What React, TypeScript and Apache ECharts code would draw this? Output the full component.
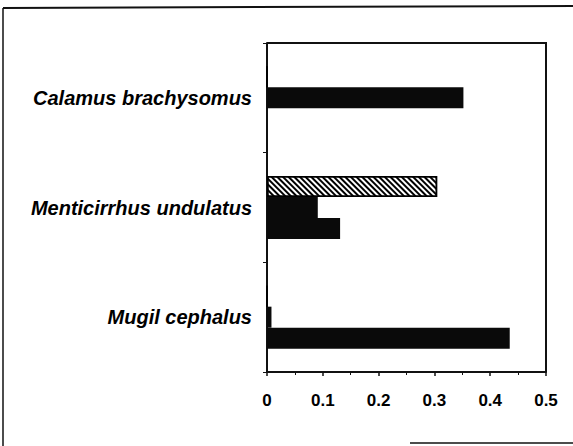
import React, { useEffect, useRef } from "react";
import * as echarts from "echarts";

const categories = ["Mugil cephalus", "Menticirrhus undulatus", "Calamus brachysomus"];
const hatchedValues = [0, 0.305, 0];
const middleValues = [0.008, 0.091, 0.352];
const bottomValues = [0.435, 0.131, 0];
const xTicks = [0, 0.1, 0.2, 0.3, 0.4, 0.5];

const FONT = "'Liberation Sans', Arial, sans-serif";

export default function App() {
  const ref = useRef<HTMLDivElement>(null);
  useEffect(() => {
    if (!ref.current) return;
    const chart = echarts.init(ref.current, null, { renderer: "svg" });
    chart.setOption({
      animation: false,
      backgroundColor: "#fff",
      grid: {
        left: 267,
        right: 27,
        top: 43,
        bottom: 74,
      },
      xAxis: {
        type: "value",
        min: xTicks[0],
        max: xTicks[xTicks.length - 1],
        interval: 0.1,
        splitLine: { show: false },
        axisLine: { show: true, lineStyle: { color: "#111", width: 2 } },
        axisTick: { show: true, length: 4, lineStyle: { color: "#111", width: 1.5 } },
        minorTick: { show: true, splitNumber: 2, length: 3, lineStyle: { color: "#111" } },
        axisLabel: {
          margin: 20,
          fontFamily: FONT,
          fontWeight: "bold",
          fontSize: 17,
          color: "#000",
          formatter: (v: number) => String(Math.round(v * 10) / 10),
        },
      },
      yAxis: {
        type: "category",
        data: categories,
        axisLine: { show: true, lineStyle: { color: "#111", width: 2 } },
        axisTick: { show: true, length: 4, lineStyle: { color: "#111" } },
        axisLabel: {
          margin: 15,
          fontFamily: FONT,
          fontWeight: "bold",
          fontStyle: "italic",
          fontSize: 20,
          color: "#000",
        },
      },
      series: [
        {
          name: "hatched",
          type: "bar",
          data: hatchedValues,
          barWidth: 21,
          barGap: "0%",
          itemStyle: {
            color: "#fff",
            borderColor: "#000",
            borderWidth: 1.5,
            decal: {
              symbol: "rect",
              symbolSize: 1,
              dashArrayX: [1, 0],
              dashArrayY: [2, 2],
              rotation: Math.PI / 4,
              color: "#000",
            },
          },
        },
        {
          name: "middle",
          type: "bar",
          data: middleValues,
          barWidth: 21,
          barGap: "0%",
          itemStyle: { color: "#0a0a0a" },
        },
        {
          name: "bottom",
          type: "bar",
          data: bottomValues,
          barWidth: 21,
          barGap: "0%",
          itemStyle: { color: "#0a0a0a" },
        },
      ],
      graphic: [
        { type: "line", shape: { x1: 3, y1: 8, x2: 573, y2: 6 }, style: { stroke: "#111", lineWidth: 2 } },
        { type: "line", shape: { x1: 3, y1: 8, x2: 3, y2: 446 }, style: { stroke: "#111", lineWidth: 1.5 } },
        { type: "line", shape: { x1: 410, y1: 443, x2: 573, y2: 443 }, style: { stroke: "#111", lineWidth: 1.5 } },
        { type: "polyline", shape: { points: [[267, 43], [546, 43], [546, 372]] }, style: { stroke: "#111", lineWidth: 2, fill: "none" } },
      ],
    });
    return () => chart.dispose();
  }, []);
  return <div ref={ref} style={{ width: 573, height: 446, position: "absolute", left: 0, top: 0 }} />;
}
